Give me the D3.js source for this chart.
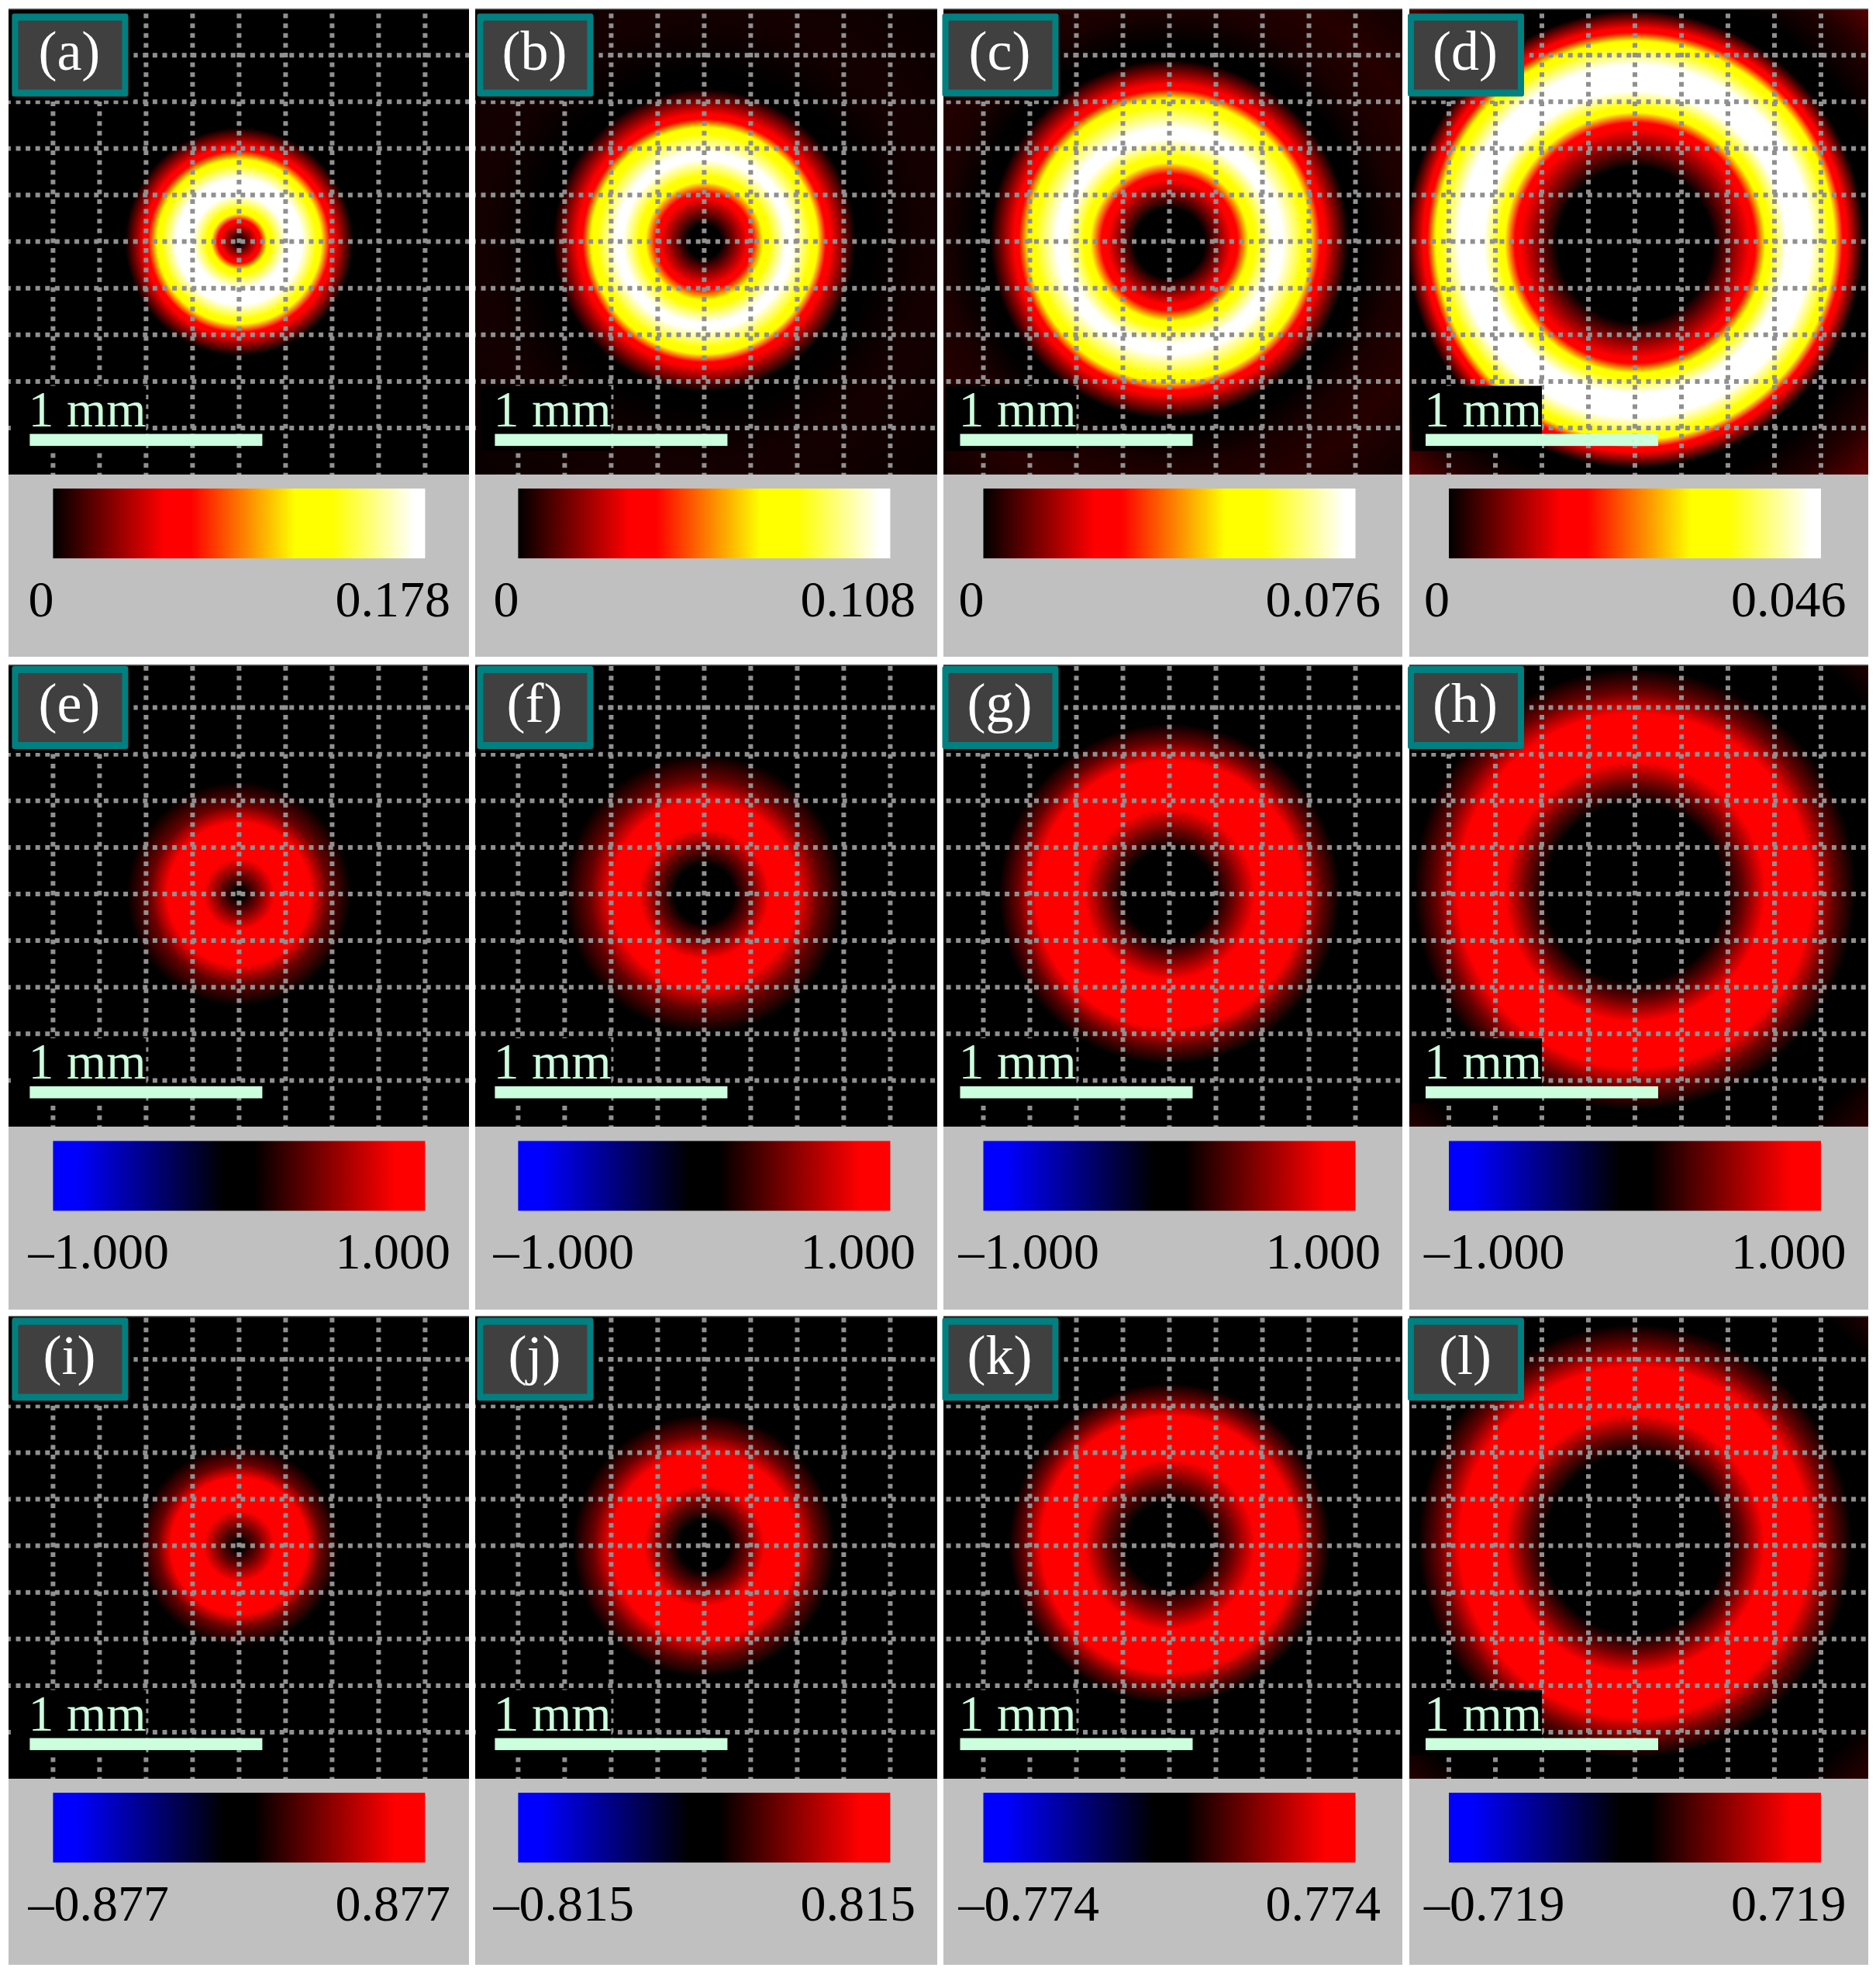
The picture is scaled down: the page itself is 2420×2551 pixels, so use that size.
<!DOCTYPE html>
<html><head><meta charset="utf-8">
<style>html,body{margin:0;padding:0;background:#fff}svg{display:block;filter:blur(0.7px)}text{font-family:"Liberation Serif","Times New Roman",serif}</style>
<script src="https://cdn.jsdelivr.net/npm/d3@7/dist/d3.min.js"></script>
</head><body><svg id="c" width="2420" height="2551"></svg>
<script>
// ---- data (radii in mm) ----
const panelLetters = ["a","b","c","d","e","f","g","h","i","j","k","l"];
const barMin = ["0","0","0","0","\u20131.000","\u20131.000","\u20131.000","\u20131.000","\u20130.877","\u20130.815","\u20130.774","\u20130.719"];
const barMax = ["0.178","0.108","0.076","0.046","1.000","1.000","1.000","1.000","0.877","0.815","0.774","0.719"];
const gridTicks = [-0.8,-0.6,-0.4,-0.2,0,0.2,0.4,0.6,0.8];
const scaleBarMm = [-0.9,0.1];

// colormap knots
const hotLevels = [0,0.30,0.37,0.65,0.75,0.97,1];
const hotColors = ["#000000","#ff0000","#ff0000","#ffff00","#ffff00","#ffffff","#ffffff"];
const divLevels = [-1,-0.88,-0.08,0.08,0.84,1];
const divColors = ["#0000ff","#0000ff","#000000","#000000","#ff0000","#ff0000"];

// ring levels and the radii at which each is reached (rising edge, falling edge)
const hotRing = [0,0.30,0.37,0.65,0.75,0.97];
const redRing = [0.08,0.40,0.84];
const risingEdge = [
 [.010,.080,.093,.120,.140,.200],[.073,.187,.207,.253,.280,.350],
 [.150,.267,.293,.340,.367,.440],[.333,.493,.517,.560,.583,.650],
 [.020,.080,.153],[.127,.200,.280],[.193,.273,.367],[.383,.467,.560],
 [.017,.083,.153],[.107,.183,.260],[.183,.273,.367],[.383,.467,.557]];
const fallingEdge = [
 [.270,.333,.353,.390,.407,.490],[.380,.460,.487,.523,.543,.650],
 [.485,.580,.607,.647,.667,.770],[.757,.833,.857,.893,.910,.983],
 [.307,.380,.483],[.400,.490,.600],[.573,.650,.733],[.760,.850,.950],
 [.293,.350,.430],[.400,.477,.565],[.550,.620,.690],[.753,.840,.933]];
// faint outer halo: [radius, level]
const haloRadii = [[],[.72,.90,1.0,1.4],[.83,.97,1.15,1.4],[1.08,1.25,1.4],[],[],[],[1.25,1.4],[],[],[],[1.25,1.4]];
const haloLevels = [[],[0,.02,.025,.01],[0,.03,.045,.02],[0,.04,.10],[],[],[],[.08,.18],[],[],[],[.08,.18]];
// vertical drift of the ring centre, at the axis and at the gradient rim (mm)
const driftAxis = [0,0,.01,.023,0,0,0,0,0,0,0,0];
const driftRim = [0,-.013,-.03,-.027,0,0,0,-.03,0,0,-.02,-.03];

// ---- layout ----
const colLeft=[11,613,1217,1818], colRight=[605,1209,1809,2410], colCentre=[308.4,908.4,1508.5,2109];
const rowTop=[11,857,1697], rowCentre=[311.6,1153,1993.6], rowBottom=[612,1453,2294], rowEnd=[847,1689,2534];
const gradRim = 1.5;

const svg=d3.select("#c"), defs=svg.append("defs");
const hot=d3.scaleLinear().domain(hotLevels).range(hotColors).clamp(true);
const div=d3.scaleLinear().domain(divLevels).range(divColors).clamp(true);
const TXT="#ccffdd";

panelLetters.forEach((letter,i)=>{
  const c=i%4, r=Math.floor(i/4), cx=colCentre[c], cy=rowCentre[r], L=colLeft[c], R=colRight[c];
  const x=d3.scaleLinear([-1,1],[cx-300,cx+300]);
  const y=d3.scaleLinear([-1,1],[cy-300.5,cy+300.5]);
  const rad=d3.scaleLinear([0,gradRim],[0,1]);
  const cmap = r===0?hot:div;
  const levels = r===0?hotRing:redRing;
  const g=svg.append("g").attr("class","panel-"+letter);

  // ring as a radial gradient
  const stops=[];
  levels.forEach((v,k)=>stops.push({r:risingEdge[i][k],v}));
  levels.slice().reverse().forEach((v,k)=>stops.push({r:fallingEdge[i][k],v}));
  haloRadii[i].forEach((h,k)=>stops.push({r:h,v:haloLevels[i][k]}));
  const grad=defs.append("radialGradient").attr("id","ring"+i).attr("gradientUnits","userSpaceOnUse")
    .attr("cx",cx).attr("cy",y(driftRim[i])).attr("r",x(gradRim)-cx)
    .attr("fx",cx).attr("fy",y(driftAxis[i]));
  grad.selectAll("stop").data(stops).join("stop")
    .attr("offset",d=>rad(d.r)).attr("stop-color",d=>cmap(d.v));

  g.append("rect").attr("x",L).attr("y",rowBottom[r]).attr("width",R-L).attr("height",rowEnd[r]-rowBottom[r]).attr("fill","#c0c0c0");
  g.append("rect").attr("x",L).attr("y",rowTop[r]).attr("width",R-L).attr("height",rowBottom[r]-rowTop[r]).attr("fill",`url(#ring${i})`);
  g.append("rect").attr("x",L).attr("y",rowTop[r]).attr("width",R-L).attr("height",1.5).attr("fill","#666");

  // scale-label backing
  g.append("rect").attr("x",cx-288.5).attr("y",cy+186).attr("width",168.5).attr("height",84).attr("fill","#000");

  // grid mask
  const mask=defs.append("mask").attr("id","m"+i).attr("maskUnits","userSpaceOnUse")
    .attr("x",L).attr("y",rowTop[r]).attr("width",R-L).attr("height",rowBottom[r]-rowTop[r]);
  mask.append("rect").attr("x",L).attr("y",rowTop[r]).attr("width",R-L).attr("height",rowBottom[r]-rowTop[r]).attr("fill","#fff");
  mask.append("rect").attr("x",L).attr("y",rowTop[r]).attr("width",cx-136-L).attr("height",cy-182-rowTop[r]).attr("fill","#000");
  mask.append("rect").attr("x",cx-288.5).attr("y",cy+186).attr("width",168.5).attr("height",84).attr("fill","#000");

  const grid=g.append("g").attr("mask",`url(#m${i})`).attr("stroke","#909090").attr("stroke-width",6).attr("stroke-dasharray","6 6.6");
  grid.selectAll("line.v").data(gridTicks).join("line").attr("class","v")
    .attr("x1",d=>x(d)).attr("x2",d=>x(d)).attr("y1",cy-294).attr("y2",rowBottom[r]);
  grid.selectAll("line.h").data(gridTicks).join("line").attr("class","h")
    .attr("y1",d=>y(d)).attr("y2",d=>y(d)).attr("x1",cx-300.5).attr("x2",R);

  // label box
  g.append("rect").attr("x",cx-293).attr("y",cy-294).attr("width",150).attr("height",107).attr("rx",3).attr("fill","#008080");
  g.append("rect").attr("x",cx-285).attr("y",cy-285).attr("width",134).attr("height",89).attr("fill","#404040");
  g.append("text").attr("x",cx-219).attr("y",cy-222).attr("text-anchor","middle").attr("font-size",72).attr("fill","#fff").text(`(${letter})`);

  // scale bar
  g.append("text").attr("x",cx-272).attr("y",cy+238).attr("font-size",66).attr("fill",TXT).text("1 mm");
  g.append("rect").attr("x",x(scaleBarMm[0])).attr("y",cy+248).attr("width",x(scaleBarMm[1])-x(scaleBarMm[0])).attr("height",15.5).attr("fill",TXT);

  // colour bar
  const dom=cmap.domain(), lo=dom[0], hi=dom[dom.length-1];
  const pos=d3.scaleLinear([lo,hi],[0,1]);
  const lg=defs.append("linearGradient").attr("id","bar"+i);
  lg.selectAll("stop").data(dom).join("stop").attr("offset",d=>pos(d)).attr("stop-color",d=>cmap(d));
  g.append("rect").attr("x",cx-240).attr("y",cy+318.5).attr("width",480).attr("height",90).attr("fill",`url(#bar${i})`);
  g.append("text").attr("x",cx-272).attr("y",cy+483).attr("font-size",66).attr("fill","#000").text(barMin[i]);
  g.append("text").attr("x",cx+272.5).attr("y",cy+483).attr("font-size",66).attr("text-anchor","end").attr("fill","#000").text(barMax[i]);
});
</script></body></html>
